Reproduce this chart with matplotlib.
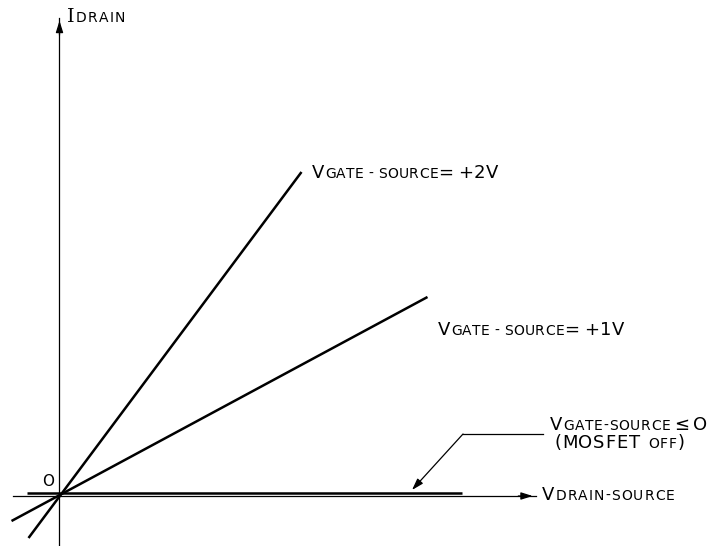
import matplotlib
matplotlib.use("Agg")
import matplotlib.pyplot as plt

# ---- data (units: origin at the axes crossing, y upward) ----
vgs2_x = [-31, 242]
vgs2_y = [-42, 324]
vgs1_x = [-48, 368]
vgs1_y = [-25, 199]
off_x = [-32, 402]
off_y = [3.5, 3.5]

# axis extents
xaxis_x = [-46, 476]
yaxis_y = [-50, 478]

FONT = ["DejaVu Sans"]
BIG = 13.0
SMALL = 10.0

fig = plt.figure(figsize=(7.09, 5.46), dpi=100)
ax = fig.add_axes([0, 0, 1, 1])
ax.set_xlim(-59.5, 649.5)
ax.set_ylim(-50, 496)
ax.axis("off")

# axes with arrows
ax.plot(xaxis_x, [0, 0], color="black", lw=0.9)
ax.annotate("", xy=(xaxis_x[1], 0), xytext=(xaxis_x[1] - 20, 0),
            arrowprops=dict(arrowstyle="-|>,head_length=0.7,head_width=0.22",
                            color="black", lw=0.9))
ax.plot([0, 0], yaxis_y, color="black", lw=0.9)
ax.annotate("", xy=(0, yaxis_y[1]), xytext=(0, yaxis_y[1] - 20),
            arrowprops=dict(arrowstyle="-|>,head_length=0.7,head_width=0.22",
                            color="black", lw=0.9))

# characteristic lines
ax.plot(vgs2_x, vgs2_y, color="black", lw=1.8, solid_capstyle="butt")
ax.plot(vgs1_x, vgs1_y, color="black", lw=1.8, solid_capstyle="butt")
ax.plot(off_x, off_y, color="black", lw=1.8, solid_capstyle="butt")

# leader arrow for off label
ax.plot([483.5, 403.5], [62, 62], color="black", lw=0.9)
ax.annotate("", xy=(352.5, 6), xytext=(403.5, 62),
            arrowprops=dict(arrowstyle="-|>,head_length=0.7,head_width=0.22",
                            color="black", lw=0.9, shrinkA=0, shrinkB=0))

fig.canvas.draw()
renderer = fig.canvas.get_renderer()


def lettering(x, y, pieces, track=0.4, space=4.5):
    """Place text char by char; pieces = [(string, size[, family]), ...]."""
    for piece in pieces:
        s, size = piece[0], piece[1]
        fam = piece[2] if len(piece) > 2 else FONT
        for ch in s:
            if ch == " ":
                x += space
                continue
            t = ax.text(x, y, ch, fontsize=size, family=fam, color="black",
                        ha="left", va="baseline")
            w = t.get_window_extent(renderer).width
            x += w + track
    return x


lettering(7.5, 474, [("I", BIG + 1, ["DejaVu Serif"]), ("DRAIN", SMALL)], track=1.2)
lettering(252.5, 318, [("V", BIG), ("GATE - SOURCE", SMALL), ("= +2V", BIG)])
lettering(378.5, 161, [("V", BIG), ("GATE - SOURCE", SMALL), ("= +1V", BIG)])
lettering(490.5, 66, [("V", BIG), ("GATE-SOURCE", SMALL), (" \u2264 O", BIG)], track=0.7, space=3.0)
lettering(494.5, 48, [("(MOSFET ", BIG), ("OFF", SMALL), (")", BIG)], track=0.9, space=7.0)
lettering(482.5, -4, [("V", BIG), ("DRAIN-SOURCE", SMALL)], track=1.1)
ax.text(-11, 15, "O", fontsize=SMALL + 1, family=FONT, ha="center", va="center")

fig.savefig("out.png", dpi=100)
